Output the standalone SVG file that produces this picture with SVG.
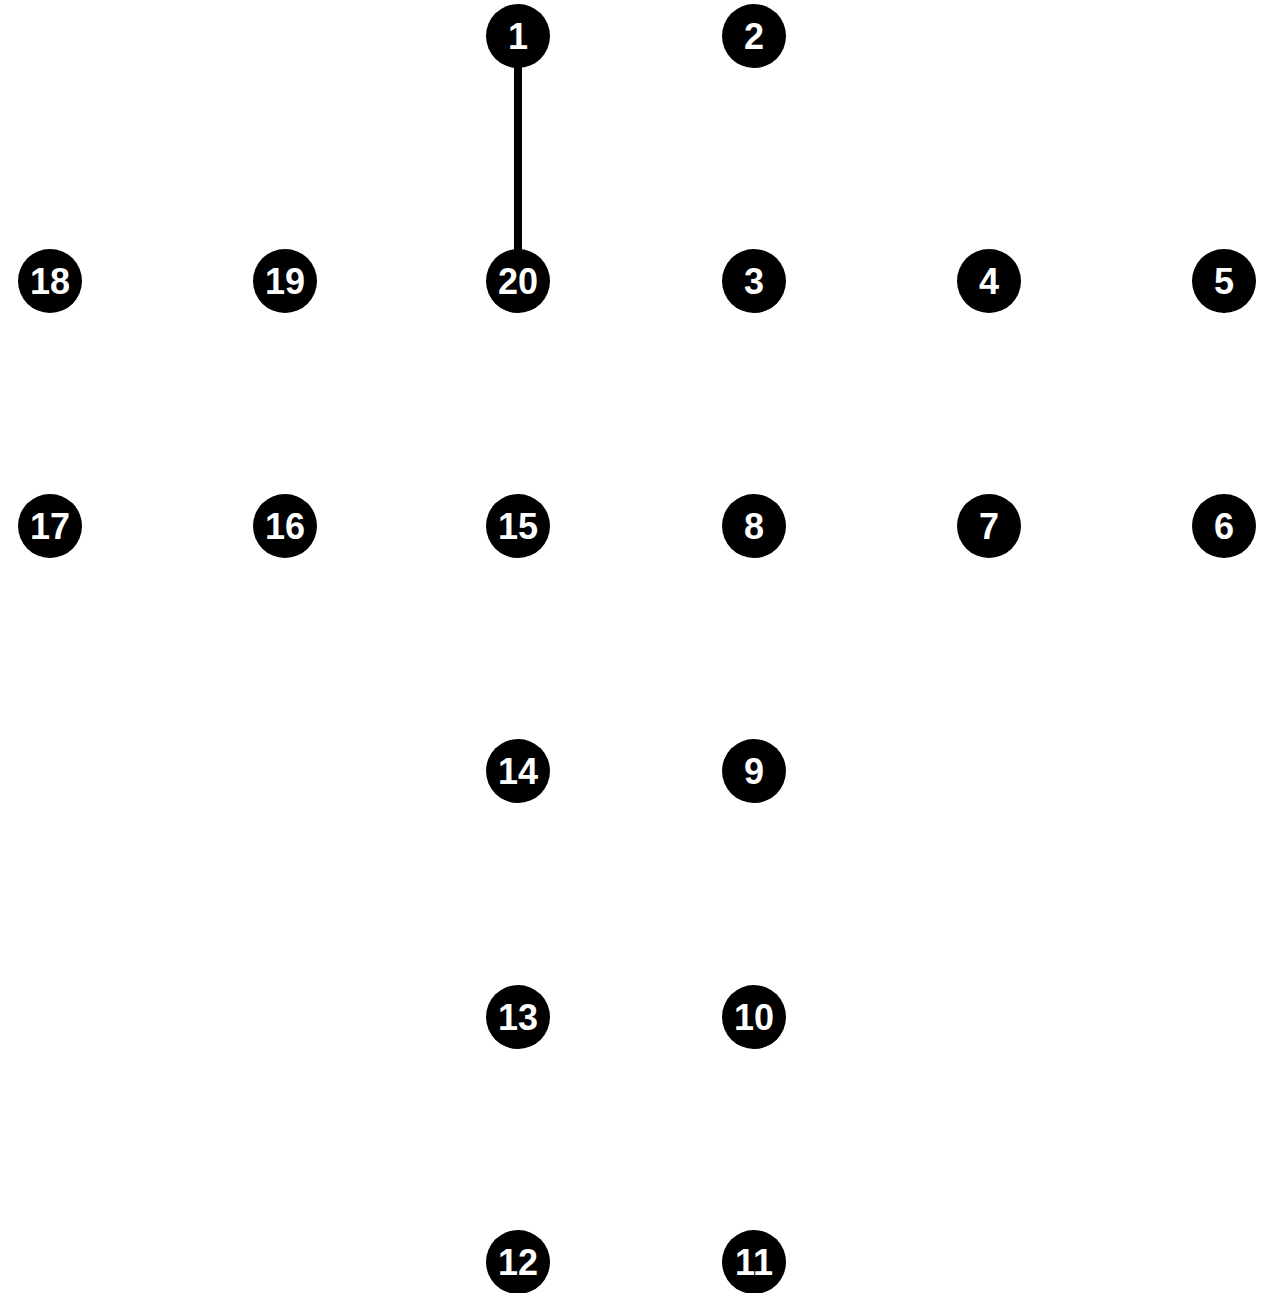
<svg xmlns="http://www.w3.org/2000/svg" width="1274" height="1293" viewBox="0 0 1274 1293">
<style>
.n circle{fill:#000}
.n text{fill:#fff;font-family:"Liberation Sans",Arial,sans-serif;font-weight:bold;font-size:36px;text-anchor:middle}
.e{stroke:#000;stroke-width:8;fill:none}
</style>
<rect width="1274" height="1293" fill="#fff"/>
<g id="edges">
<line class="e" x1="518" y1="36" x2="518" y2="281"/>
</g>
<g id="n1" class="n"><circle cx="518" cy="36" r="32"/><text x="518" y="49">1</text></g>
<g id="n2" class="n"><circle cx="754" cy="36" r="32"/><text x="754" y="49">2</text></g>
<g id="n3" class="n"><circle cx="754" cy="281" r="32"/><text x="754" y="294">3</text></g>
<g id="n4" class="n"><circle cx="989" cy="281" r="32"/><text x="989" y="294">4</text></g>
<g id="n5" class="n"><circle cx="1224" cy="281" r="32"/><text x="1224" y="294">5</text></g>
<g id="n6" class="n"><circle cx="1224" cy="526" r="32"/><text x="1224" y="539">6</text></g>
<g id="n7" class="n"><circle cx="989" cy="526" r="32"/><text x="989" y="539">7</text></g>
<g id="n8" class="n"><circle cx="754" cy="526" r="32"/><text x="754" y="539">8</text></g>
<g id="n9" class="n"><circle cx="754" cy="771" r="32"/><text x="754" y="784">9</text></g>
<g id="n10" class="n"><circle cx="754" cy="1017" r="32"/><text x="754" y="1030">10</text></g>
<g id="n11" class="n"><circle cx="754" cy="1262" r="32"/><text x="754" y="1275">11</text></g>
<g id="n12" class="n"><circle cx="518" cy="1262" r="32"/><text x="518" y="1275">12</text></g>
<g id="n13" class="n"><circle cx="518" cy="1017" r="32"/><text x="518" y="1030">13</text></g>
<g id="n14" class="n"><circle cx="518" cy="771" r="32"/><text x="518" y="784">14</text></g>
<g id="n15" class="n"><circle cx="518" cy="526" r="32"/><text x="518" y="539">15</text></g>
<g id="n16" class="n"><circle cx="285" cy="526" r="32"/><text x="285" y="539">16</text></g>
<g id="n17" class="n"><circle cx="50" cy="526" r="32"/><text x="50" y="539">17</text></g>
<g id="n18" class="n"><circle cx="50" cy="281" r="32"/><text x="50" y="294">18</text></g>
<g id="n19" class="n"><circle cx="285" cy="281" r="32"/><text x="285" y="294">19</text></g>
<g id="n20" class="n"><circle cx="518" cy="281" r="32"/><text x="518" y="294">20</text></g>
</svg>
